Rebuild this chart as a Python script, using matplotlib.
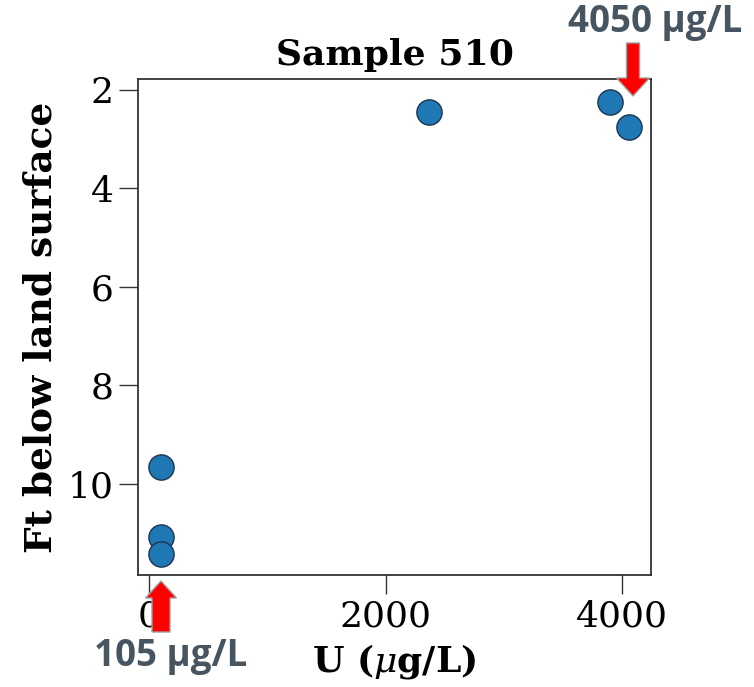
import matplotlib
matplotlib.use("Agg")
import matplotlib.pyplot as plt
from matplotlib.patches import FancyArrow
from matplotlib.transforms import Affine2D

# Data
u_ugL = [2370, 3900, 4060, 105, 105, 105]
depth_ft = [2.45, 2.24, 2.75, 9.65, 11.08, 11.42]
x_ticks = [0, 2000, 4000]
y_ticks = [2, 4, 6, 8, 10]
title = "Sample 510"
annot_top = "4050 µg/L"
annot_bottom = "105 µg/L"

W, H, DPI = 754, 687, 100
plt.rcParams['font.family'] = ['DejaVu Serif']
plt.rcParams['mathtext.fontset'] = 'dejavuserif'
fig = plt.figure(figsize=(W / DPI, H / DPI), dpi=DPI)
ax = fig.add_axes([138 / W, 1 - 575 / H, (651 - 138) / W, (575 - 79) / H])

ax.scatter(u_ugL, depth_ft, s=330, c='#1f77b4', edgecolors='#1d3550', linewidths=1.0, zorder=3)
ax.set_xlim(-93, 4245)
ax.set_ylim(11.85, 1.78)
ax.set_xticks(x_ticks)
ax.set_yticks(y_ticks)
ax.tick_params(axis='both', labelsize=26, length=13.5, width=1.0, color='#333333')
ax.tick_params(axis='x', pad=4)
ax.tick_params(axis='y', pad=4)
for s in ax.spines.values():
    s.set_color('#333333')
    s.set_linewidth(1.3)
ax.set_title(title, fontsize=26, fontweight='bold', pad=10)
ax.set_xlabel(r"U ($\mu$g/L)", fontsize=26, fontweight='bold', labelpad=6)
ax.set_ylabel("Ft below land surface", fontsize=27, fontweight='bold', labelpad=6)

# Pixel transform (origin top-left)
pix = Affine2D().scale(1, -1).translate(0, H) + Affine2D().scale(1.0 / DPI) + fig.dpi_scale_trans

def block_arrow(xc, y_tail, y_tip, shaft_w, head_w, head_len):
    dy = y_tip - y_tail
    arr = FancyArrow(xc, y_tail, 0, dy, width=shaft_w, head_width=head_w,
                     head_length=head_len, length_includes_head=True,
                     transform=pix, facecolor='#ff0000', edgecolor='#a0a0a0',
                     linewidth=1.0, zorder=10, clip_on=False)
    fig.add_artist(arr)

block_arrow(633, 43, 96, 13, 33, 18)
block_arrow(161, 632, 581, 18, 31, 17)

txt_color = '#465560'
fig.text(655 / W, 1 - 22 / H, annot_top, fontsize=26.5, fontweight='bold', color=txt_color,
         family=['Open Sans', 'DejaVu Sans'], ha='center', va='center')
fig.text(171 / W, 1 - 656 / H, annot_bottom, fontsize=26.5, fontweight='bold', color=txt_color,
         family=['Open Sans', 'DejaVu Sans'], ha='center', va='center')

fig.savefig('out.png', dpi=DPI)
